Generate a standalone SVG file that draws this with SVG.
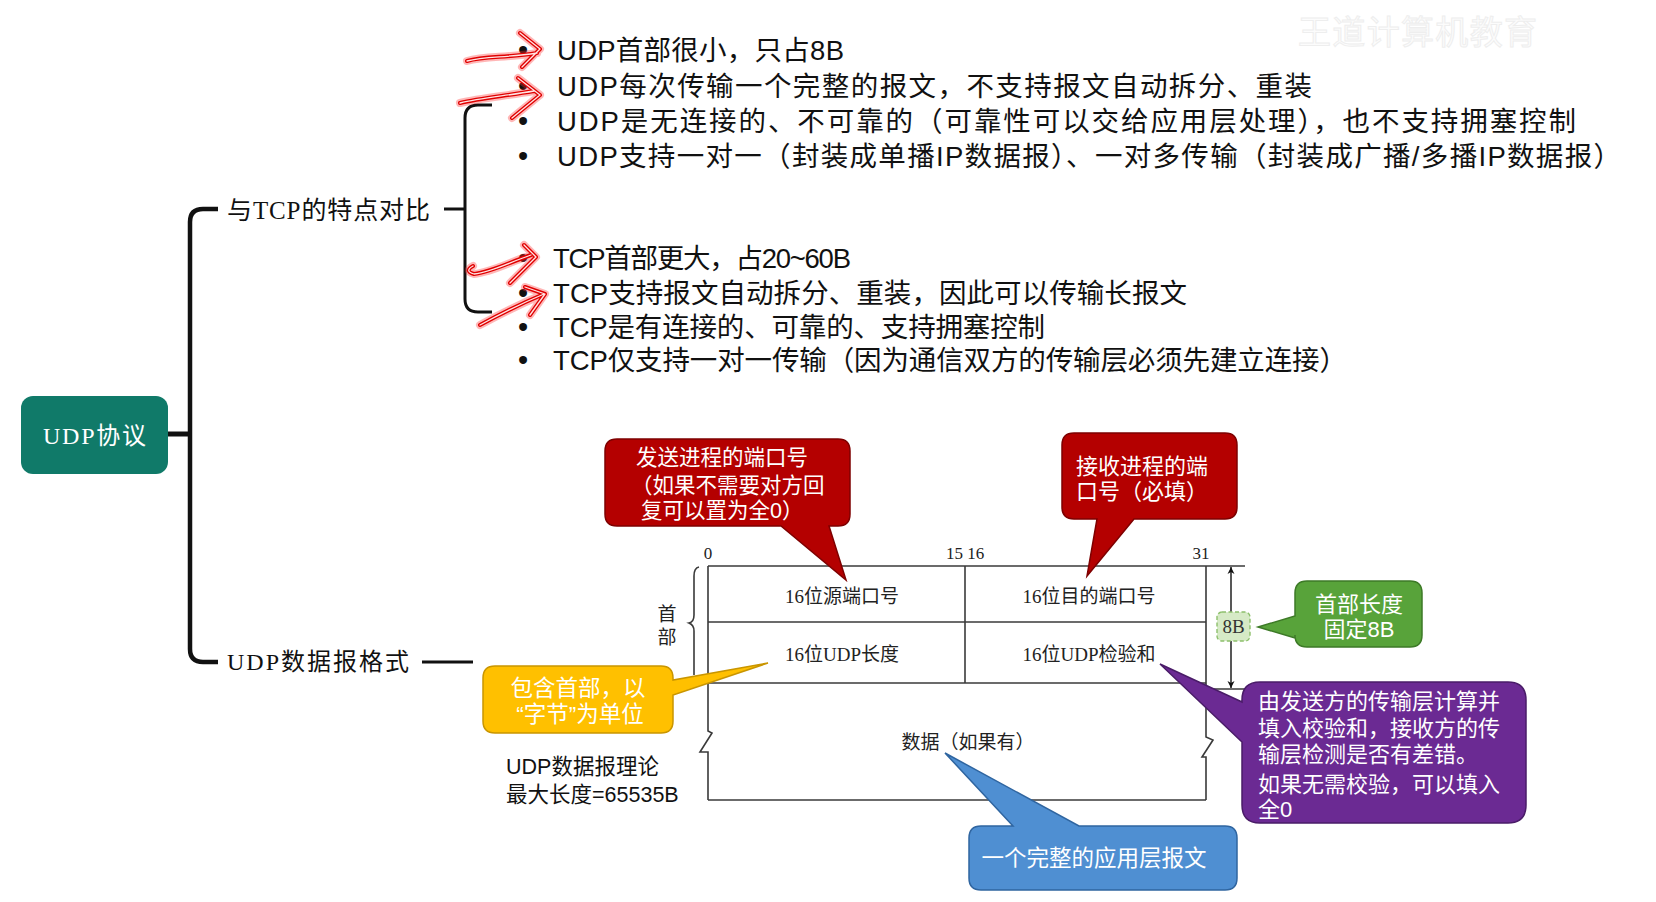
<svg xmlns="http://www.w3.org/2000/svg" width="1656" height="902" viewBox="0 0 1656 902">
<style>
.sans{font-family:"Liberation Sans","Noto Sans CJK SC",sans-serif;}
.node{font-family:"Liberation Serif","Noto Sans CJK SC",serif;fill:#111;}
.item{font-family:"Liberation Sans","Noto Sans CJK SC",sans-serif;font-size:27.5px;fill:#111;}
.bul{font-family:"Liberation Sans",sans-serif;font-size:29px;fill:#111;text-anchor:middle;}
.cell{font-family:"Liberation Serif","Noto Sans CJK SC",serif;font-size:19px;fill:#222;text-anchor:middle;}
.bit{font-family:"Liberation Serif",serif;font-size:17px;fill:#222;text-anchor:middle;}
.co{font-family:"Liberation Sans","Noto Sans CJK SC",sans-serif;fill:#fff;}
.conn{fill:none;stroke:#111;stroke-linecap:butt;}
.tbl{fill:none;stroke:#3a3a3a;stroke-width:1.6;}
.glow{fill:none;stroke:#ff3030;stroke-width:8;stroke-opacity:0.35;stroke-linecap:round;stroke-linejoin:round;}
.red{fill:none;stroke:#e00000;stroke-width:4;stroke-linecap:round;stroke-linejoin:round;}
.core{fill:none;stroke:#ffe4e4;stroke-width:1.3;stroke-linecap:round;stroke-linejoin:round;}
</style>
<defs>
<marker id="ah" viewBox="0 0 10 10" refX="10" refY="5" markerWidth="7" markerHeight="9" orient="auto-start-reverse" markerUnits="userSpaceOnUse">
<path d="M0,0 L10,5 L0,10 L3,5 Z" fill="#111"/>
</marker>
</defs>
<rect width="1656" height="902" fill="#ffffff"/>

<!-- watermark -->
<text x="1298" y="44" class="sans" font-size="33" fill="#fcfcfc" stroke="#eeeeee" stroke-width="1" textLength="239">王道计算机教育</text>

<!-- connectors -->
<g id="connectors">
<path class="conn" stroke-width="5" d="M167,434 H190"/>
<path class="conn" stroke-width="4.5" d="M218,209 H203 Q190,209 190,222 V649 Q190,662 203,662 H218"/>
<path class="conn" stroke-width="3" d="M444,209 H465"/>
<path class="conn" stroke-width="3" d="M492,105 H478 Q465,105 465,118 V299 Q465,312 478,312 H492"/>
<path class="conn" stroke-width="3.2" d="M422,662 H473"/>
</g>

<!-- root node -->
<g id="node-udp">
<rect x="21" y="396" width="147" height="78" rx="12" fill="#107a69"/>
<text x="94.5" y="444" class="node" font-size="24" style="fill:#fff" text-anchor="middle" textLength="103">UDP协议</text>
</g>

<g id="node-compare">
<text x="227" y="219" class="node" font-size="25" textLength="203">与TCP的特点对比</text>
</g>

<g id="node-format">
<text x="227" y="670" class="node" font-size="24" textLength="182">UDP数据报格式</text>
</g>

<!-- UDP list -->
<g id="node-udp-list">
<text x="523" y="60" class="bul">•</text>
<text x="523" y="96" class="bul">•</text>
<text x="523" y="131" class="bul">•</text>
<text x="523" y="166" class="bul">•</text>
<text x="557" y="60" class="item" textLength="287">UDP首部很小，只占8B</text>
<text x="557" y="96" class="item" textLength="755">UDP每次传输一个完整的报文，不支持报文自动拆分、重装</text>
<text x="557" y="131" class="item" textLength="1019">UDP是无连接的、不可靠的（可靠性可以交给应用层处理），也不支持拥塞控制</text>
<text x="557" y="166" class="item" textLength="1064">UDP支持一对一（封装成单播IP数据报）、一对多传输（封装成广播/多播IP数据报）</text>
</g>

<!-- TCP list -->
<g id="node-tcp-list">
<text x="523" y="268" class="bul">•</text>
<text x="523" y="303" class="bul">•</text>
<text x="523" y="337" class="bul">•</text>
<text x="523" y="370" class="bul">•</text>
<text x="553" y="268" class="item" textLength="298">TCP首部更大，占20~60B</text>
<text x="553" y="303" class="item" textLength="634">TCP支持报文自动拆分、重装，因此可以传输长报文</text>
<text x="553" y="337" class="item" textLength="492">TCP是有连接的、可靠的、支持拥塞控制</text>
<text x="553" y="370" class="item" textLength="794">TCP仅支持一对一传输（因为通信双方的传输层必须先建立连接）</text>
</g>

<!-- hand-drawn red arrows -->
<g id="red-arrows">
<path class="glow" d="M467,61 C485,56 505,58 537,53 M520,33 L540,49 L522,67"/>
<path class="red" d="M467,61 C485,56 505,58 537,53 M520,33 L540,49 L522,67"/>
<path class="core" d="M467,61 C485,56 505,58 537,53 M520,33 L540,49 L522,67"/>
<path class="glow" d="M460,103 C480,98 505,96 534,91 M518,78 L540,95 L512,118"/>
<path class="red" d="M460,103 C480,98 505,96 534,91 M518,78 L540,95 L512,118"/>
<path class="core" d="M460,103 C480,98 505,96 534,91 M518,78 L540,95 L512,118"/>
<path class="glow" d="M473,266 Q464,271 474,274 C492,272 510,262 531,255 M524,245 L536,257 L510,283"/>
<path class="red" d="M473,266 Q464,271 474,274 C492,272 510,262 531,255 M524,245 L536,257 L510,283"/>
<path class="core" d="M473,266 Q464,271 474,274 C492,272 510,262 531,255 M524,245 L536,257 L510,283"/>
<path class="glow" d="M480,325 C500,314 525,302 544,294 M525,287 L545,294 L530,315"/>
<path class="red" d="M480,325 C500,314 525,302 544,294 M525,287 L545,294 L530,315"/>
<path class="core" d="M480,325 C500,314 525,302 544,294 M525,287 L545,294 L530,315"/>
</g>

<!-- UDP datagram format diagram -->
<g id="node-datagram">
<text x="708" y="559" class="bit">0</text>
<text x="965" y="559" class="bit">15 16</text>
<text x="1201" y="559" class="bit">31</text>
<path class="tbl" stroke-width="2" d="M708,566 H1245"/>
<path class="tbl" d="M708,566 V731 L712,733 L700,752 L708,752 V800"/>
<path class="tbl" d="M1206,566 V737 L1213,740 L1202,757 L1206,757 V800"/>
<path class="tbl" d="M708,622 H1206"/>
<path class="tbl" stroke-width="2" d="M708,683 H1206"/>
<path class="tbl" d="M708,800 H1206"/>
<path class="tbl" d="M965,566 V683"/>
<path class="tbl" d="M1206,689 H1245"/>
<path class="tbl" d="M699,567 Q694,568 694,576 V615 Q694,622 689,623 Q694,625 694,631 V675"/>
<line x1="1231" y1="567" x2="1231" y2="688" stroke="#111" stroke-width="1.4" marker-start="url(#ah)" marker-end="url(#ah)"/>
<rect x="1217" y="612" width="33" height="29" rx="5" fill="#d6eac6" stroke="#8dc06c" stroke-width="1.4" stroke-dasharray="4 2.5"/>
<text x="1233.5" y="633" class="cell" style="fill:#333">8B</text>
<text x="667" y="621" class="cell">首</text>
<text x="667" y="644" class="cell">部</text>
<text x="842" y="603" class="cell">16位源端口号</text>
<text x="1089" y="603" class="cell">16位目的端口号</text>
<text x="842" y="661" class="cell">16位UDP长度</text>
<text x="1089" y="661" class="cell">16位UDP检验和</text>
<text x="968" y="749" class="cell">数据（如果有）</text>
</g>

<g id="node-maxlen">
<text x="506" y="774" class="sans" font-size="21.5" fill="#111">UDP数据报理论</text>
<text x="506" y="802" class="sans" font-size="21.5" fill="#111">最大长度=65535B</text>
</g>

<!-- callouts -->
<g id="callout-srcport">
<path d="M617,439 H838 Q850,439 850,451 V514 Q850,526 838,526 H829 L846,580 L781,526 H617 Q605,526 605,514 V451 Q605,439 617,439 Z" fill="#b40000" stroke="#7e0000" stroke-width="1.5"/>
<text x="636" y="465" class="co" font-size="21.5">发送进程的端口号</text>
<text x="631" y="493" class="co" font-size="21.5">（如果不需要对方回</text>
<text x="641" y="518" class="co" font-size="21.5">复可以置为全0）</text>
</g>

<g id="callout-dstport">
<path d="M1074,433 H1225 Q1237,433 1237,445 V507 Q1237,519 1225,519 H1134 L1087,576 L1097,519 H1074 Q1062,519 1062,507 V445 Q1062,433 1074,433 Z" fill="#b40000" stroke="#7e0000" stroke-width="1.5"/>
<text x="1076" y="474" class="co" font-size="22">接收进程的端</text>
<text x="1076" y="499" class="co" font-size="22">口号（必填）</text>
</g>

<g id="callout-hdrlen">
<path d="M1307,581 H1410 Q1422,581 1422,593 V635 Q1422,647 1410,647 H1307 Q1295,647 1295,635 V638 L1258,627 L1295,616 V593 Q1295,581 1307,581 Z" fill="#58a33a" stroke="#3d7a27" stroke-width="1.5"/>
<text x="1359" y="612" class="co" font-size="22" text-anchor="middle">首部长度</text>
<text x="1359" y="637" class="co" font-size="22" text-anchor="middle">固定8B</text>
</g>

<g id="callout-length">
<path d="M495,666 H661 Q673,666 673,678 V680 L768,663 L673,695 V721 Q673,733 661,733 H495 Q483,733 483,721 V678 Q483,666 495,666 Z" fill="#ffc000" stroke="#c99500" stroke-width="1.5"/>
<text x="578" y="696" class="co" font-size="22.5" text-anchor="middle">包含首部，以</text>
<text x="580" y="722" class="co" font-size="22.5" text-anchor="middle">“字节”为单位</text>
</g>

<g id="callout-checksum">
<path d="M1260,682 H1508 Q1526,682 1526,700 V805 Q1526,823 1508,823 H1260 Q1242,823 1242,805 V742 L1160,664 L1242,702 V700 Q1242,682 1260,682 Z" fill="#6b2a93" stroke="#4a1c68" stroke-width="1.5"/>
<text x="1258" y="709" class="co" font-size="22">由发送方的传输层计算并</text>
<text x="1258" y="736" class="co" font-size="22">填入校验和，接收方的传</text>
<text x="1258" y="762" class="co" font-size="22">输层检测是否有差错。</text>
<text x="1258" y="792" class="co" font-size="22">如果无需校验，可以填入</text>
<text x="1258" y="817" class="co" font-size="22">全0</text>
</g>

<g id="callout-data">
<path d="M981,826 H1013 L945,753 L1079,826 H1225 Q1237,826 1237,838 V878 Q1237,890 1225,890 H981 Q969,890 969,878 V838 Q969,826 981,826 Z" fill="#4f8fd2" stroke="#2f65a0" stroke-width="1.5"/>
<text x="1094" y="866" class="co" font-size="22.5" text-anchor="middle">一个完整的应用层报文</text>
</g>
</svg>
